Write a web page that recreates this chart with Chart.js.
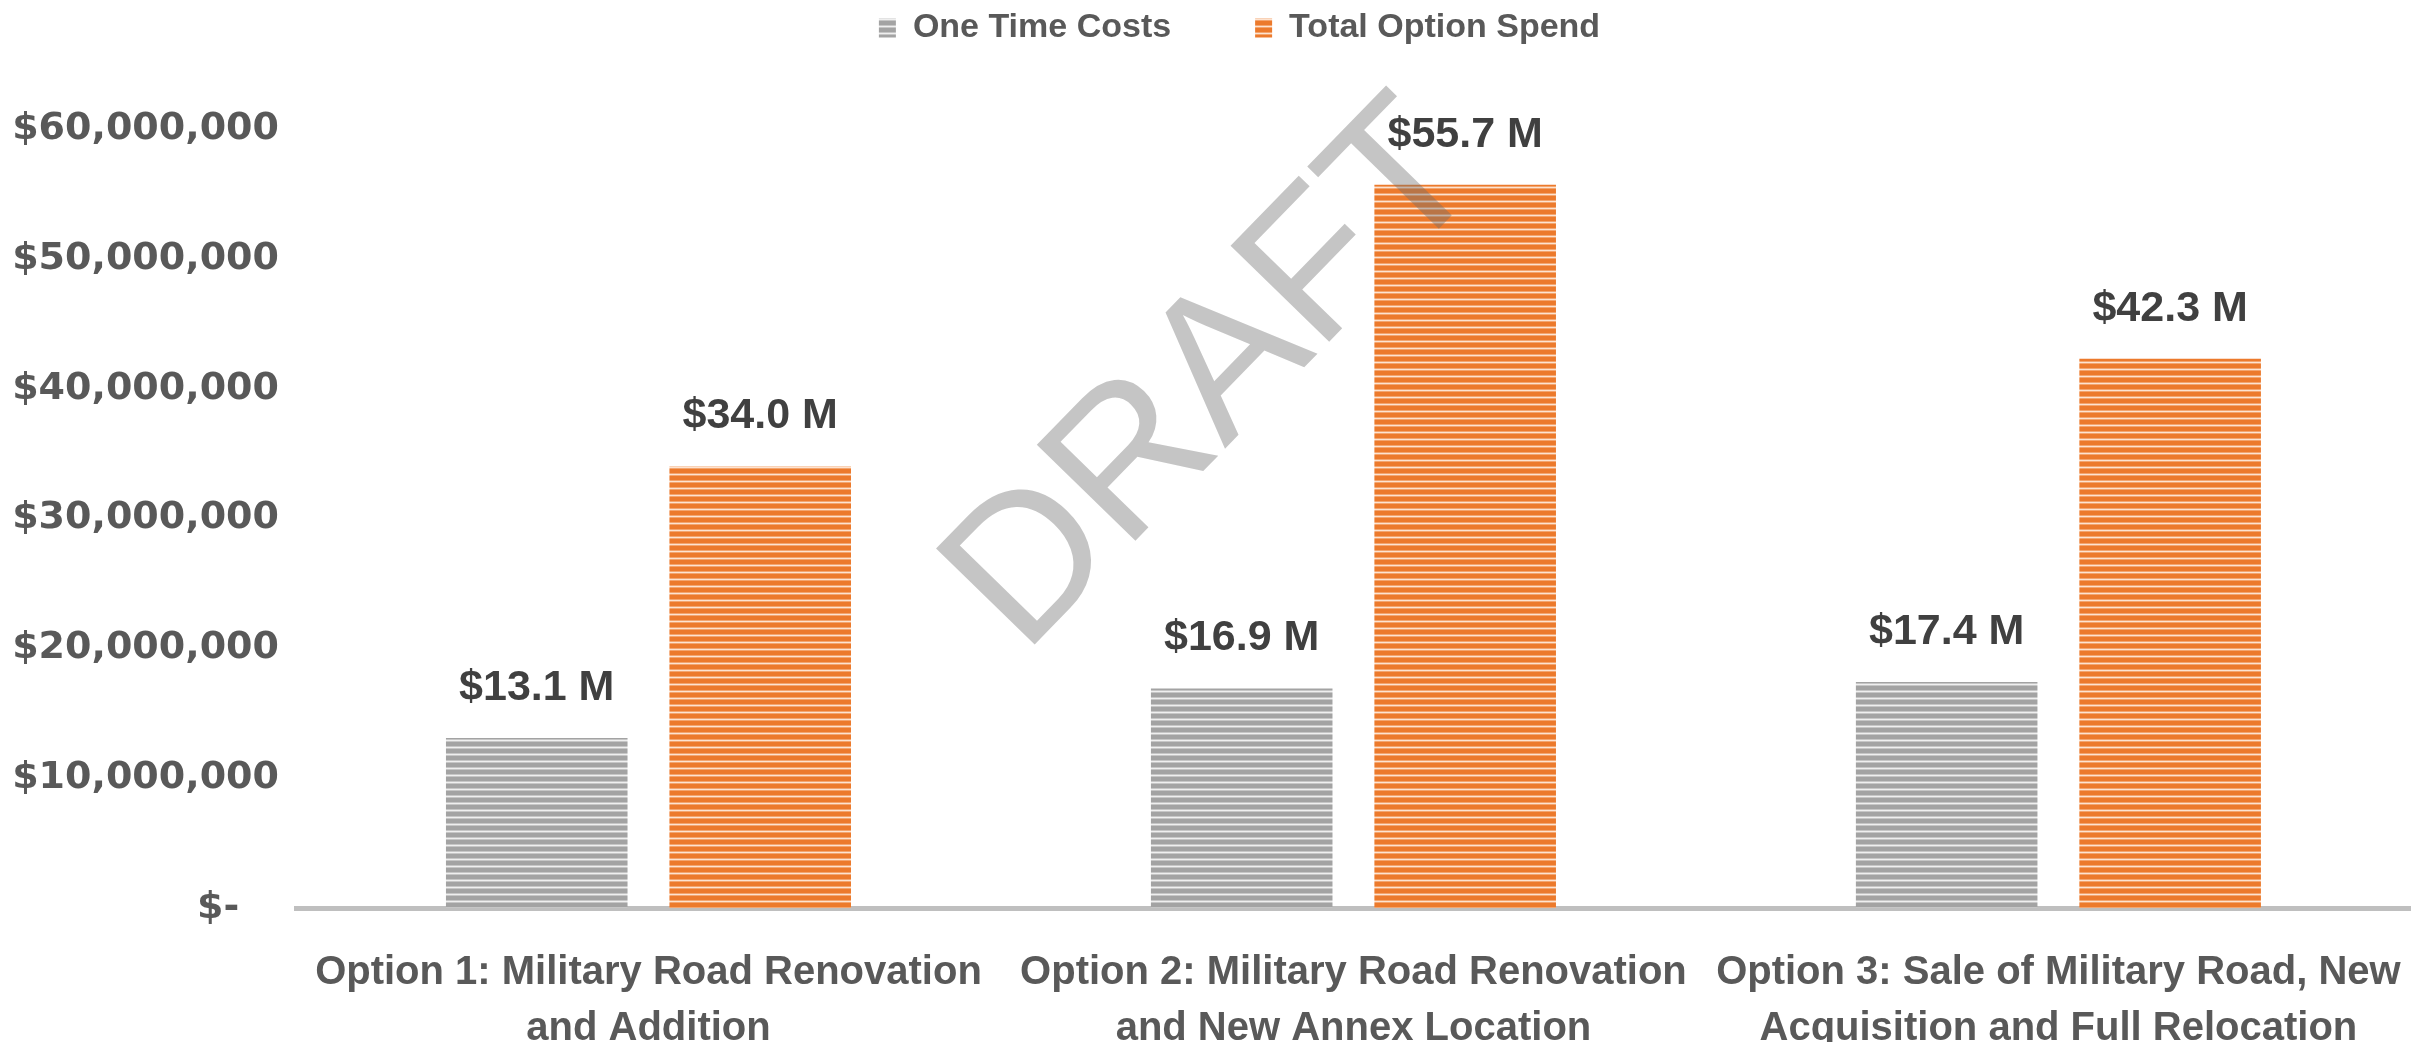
<!DOCTYPE html>
<html><head><meta charset="utf-8">
<script src="https://cdn.jsdelivr.net/npm/chart.js@4/dist/chart.umd.min.js"></script>
<style>html,body{margin:0;padding:0;background:#fff;overflow:hidden}#wrap{width:2433px;height:1042px;position:relative}</style>
</head><body><div id="wrap"><canvas id="c" width="2433" height="1042"></canvas></div>
<script>
const categories = [
  ["Option 1: Military Road Renovation", "and Addition"],
  ["Option 2: Military Road Renovation", "and New Annex Location"],
  ["Option 3: Sale of Military Road, New", "Acquisition and Full Relocation"]
];
const seriesNames = ["One Time Costs", "Total Option Spend"];
const oneTimeCosts = [13100000, 16900000, 17400000];
const totalOptionSpend = [34000000, 55700000, 42300000];
const yTickValues = [0, 10000000, 20000000, 30000000, 40000000, 50000000, 60000000];
const watermarkText = "DRAFT";

function stripes(dark, mid, light) {
  const cv = document.createElement('canvas');
  cv.width = 8; cv.height = 7;
  const g = cv.getContext('2d');
  const rows = [dark, dark, dark, dark, mid, light, mid];
  rows.forEach((c, i) => { g.fillStyle = c; g.fillRect(0, i, 8, 1); });
  return g.createPattern(cv, 'repeat');
}
const ctx = document.getElementById('c').getContext('2d');
const grayPat = stripes('#a3a3a3', '#c6c6c6', '#efefef');
const orangePat = stripes('#ec7a2c', '#f3a56f', '#fde3d0');

const LEGEND_H = 129;
const legendPlugin = {
  id: 'legendFix',
  afterInit(chart) {
    const lg = chart.legend;
    const orig = lg.fit;
    lg.fit = function () { orig.call(this); this.height = LEGEND_H; };
  },
  afterLayout(chart) {
    const lg = chart.legend;
    lg.top = -73; lg.bottom = lg.top + LEGEND_H;
    lg.left += 33; lg.right += 33;
  }
};
const labelPlugin = {
  id: 'barLabels',
  afterDatasetsDraw(chart) {
    const c = chart.ctx;
    c.save();
    c.font = 'bold 43px "Liberation Sans", Arial, sans-serif';
    c.fillStyle = '#404040';
    c.textAlign = 'center';
    c.textBaseline = 'middle';
    chart.data.datasets.forEach((ds, di) => {
      chart.getDatasetMeta(di).data.forEach((bar, i) => {
        const v = ds.data[i];
        c.fillText('$' + (v / 1e6).toFixed(1) + ' M', bar.x, bar.y - 50);
      });
    });
    c.restore();
  },
  afterDraw(chart) {
    const c = chart.ctx;
    c.save();
    c.translate(1204, 367);
    c.rotate(-45.8 * Math.PI / 180);
    c.font = 'normal 200px "Liberation Sans", Arial, sans-serif';
    c.fillStyle = 'rgba(110,110,110,0.4)';
    c.textAlign = 'center';
    c.textBaseline = 'alphabetic';
    c.fillText(watermarkText, 0, 72);
    c.restore();
  }
};

new Chart(ctx, {
  type: 'bar',
  data: {
    labels: categories,
    datasets: [
      { label: seriesNames[0], data: oneTimeCosts, backgroundColor: grayPat, borderWidth: 0 },
      { label: seriesNames[1], data: totalOptionSpend, backgroundColor: orangePat, borderWidth: 0 }
    ]
  },
  options: {
    responsive: false,
    animation: false,
    devicePixelRatio: 1,
    categoryPercentage: 0.634,
    barPercentage: 0.8125,
    layout: { padding: { left: 0, right: 20, top: 0, bottom: 0 } },
    plugins: {
      tooltip: { enabled: false },
      legend: {
        position: 'top',
        labels: {
          boxWidth: 17, boxHeight: 19, padding: 84,
          color: '#595959',
          font: { family: '"Liberation Sans", Arial, sans-serif', size: 34, weight: 'bold' }
        }
      }
    },
    scales: {
      x: {
        grid: { display: false },
        border: { display: true, color: '#bfbfbf', width: 5 },
        ticks: {
          color: '#595959', padding: 29, maxRotation: 0, autoSkip: false,
          font: { family: '"Liberation Sans", Arial, sans-serif', size: 40, weight: 'bold', lineHeight: 1.4 }
        },
        afterFit(s) { s.height = 134; }
      },
      y: {
        min: 0, max: 60000000,
        grid: { display: false },
        border: { display: false },
        afterBuildTicks(s) { s.ticks = yTickValues.map(v => ({ value: v })); },
        ticks: {
          color: '#595959', padding: 9,
          font: { family: '"DejaVu Sans", Verdana, sans-serif', size: 38, weight: 'bold' },
          callback(v) { return v === 0 ? '$-   ' : '$' + Number(v).toLocaleString('en-US'); }
        },
        afterFit(s) { s.width = 296; }
      }
    }
  },
  plugins: [legendPlugin, labelPlugin]
});
</script></body></html>
